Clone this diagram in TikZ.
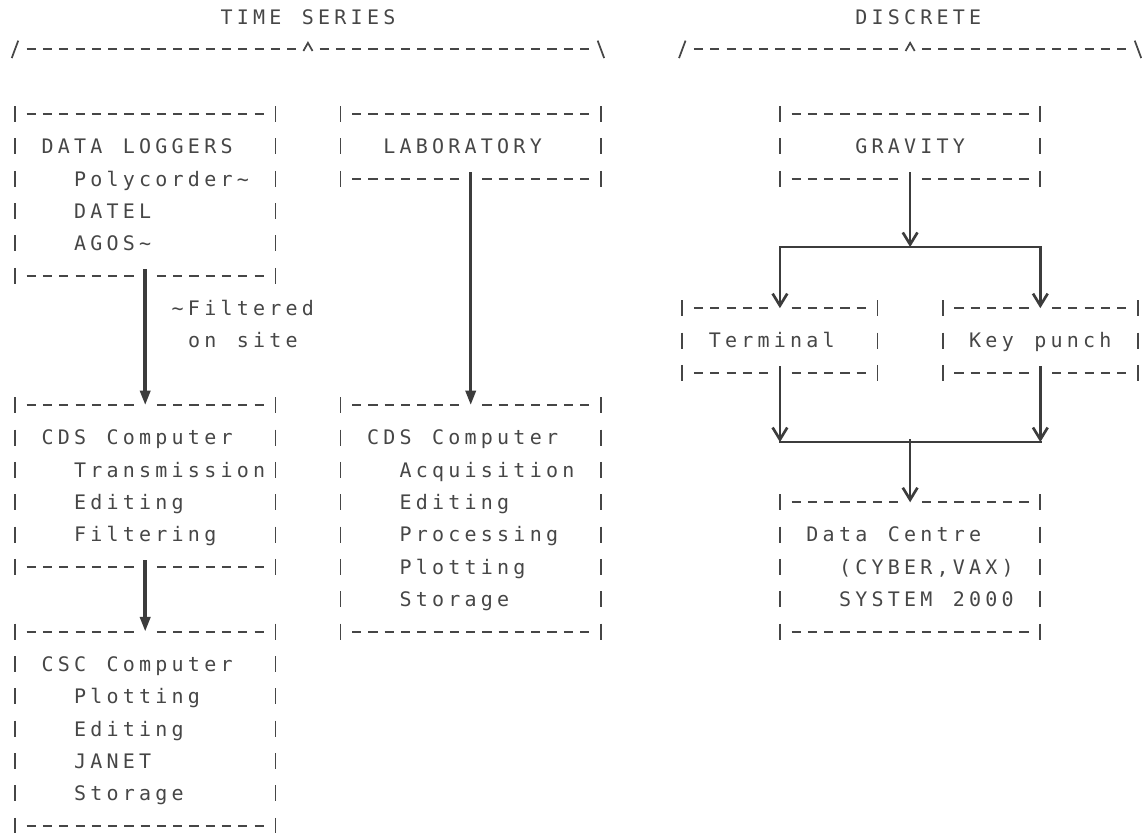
\documentclass[tikz,border=0pt]{standalone}
\usepackage{fontspec}
\newfontfamily\dotfont{DejaVu Sans Mono}
\usetikzlibrary{arrows.meta, fit}
\definecolor{inkgray}{RGB}{70,70,70}
\definecolor{linegray}{RGB}{60,60,60}
% one printer cell
\newlength\cw \setlength\cw{12.206pt}
\newlength\rh \setlength\rh{24.2625pt}
\newcommand\rowstrut{\rule[-6.66pt]{0pt}{\rh}}
\newcommand\indt{\hspace*{2\cw}}
\ExplSyntaxOn
\NewDocumentCommand\typed{m}{\rowstrut\str_map_inline:nn{#1}{\makebox[\cw]{##1}}}
\ExplSyntaxOff
% dashed frame made of - and | marks
\newcommand\asciiframe[1]{%
  \draw[hdash] ([xshift=.5\cw]#1.north west) -- ([xshift=-.5\cw]#1.north east)
               ([xshift=.5\cw]#1.south west) -- ([xshift=-.5\cw]#1.south east);
  \draw[vdash] ([yshift=.5\rh]#1.north west) -- ([yshift=-.5\rh]#1.south west)
               ([yshift=.5\rh]#1.north east) -- ([yshift=-.5\rh]#1.south east);}

\begin{document}
\begin{tikzpicture}[x=12.206pt, y=-24.2625pt,
  txt/.style={inner sep=0pt, outer sep=0pt, text=inkgray, align=left,
              font=\dotfont\fontsize{15pt}{24.2625pt}\selectfont},
  abox/.style={inner sep=0pt, outer sep=0pt},
  hdash/.style={draw=inkgray, line width=1.4pt, dash pattern=on 6.9pt off 5.306pt, dash phase=9.553pt},
  vdash/.style={draw=inkgray, line width=1.3pt, dash pattern=on 12pt off 12.2625pt, dash phase=18.131pt},
  glyph/.style={draw=inkgray, line width=1.3pt},
  cut/.style={preaction={draw=white, line width=7.5pt, -, shorten >=-1.2pt}},
  arr/.style={draw=linegray, line width=2.6pt, -{Triangle[length=11pt, width=7.5pt]}},
  varr/.style={draw=linegray, line width=2pt, -{Straight Barb[length=9pt, width=11pt]}},
  bar/.style={draw=linegray, line width=2pt, line cap=rect}]
  \useasboundingbox (-0.9217,-0.5255) rectangle (69.247,25.193);

  % headings and their braces
  \node[txt] (ts) at (18,0) {\typed{TIME SERIES}};
  \node[txt] (disc) at (55.5,0) {\typed{DISCRETE}};
  \foreach \a/\m/\b in {0/18/36, 41/55/69} {
    \draw[hdash] (\a+0.5,1) -- (\m-0.5,1) (\m+0.5,1) -- (\b-0.5,1);
    \draw[glyph] (\a-0.2,1.27) -- (\a+0.2,0.73)
                 (\m-0.28,1.05) -- (\m,0.8) -- (\m+0.28,1.05)
                 (\b-0.2,0.73) -- (\b+0.2,1.27);
  }

  % boxes
  \node[abox, fit={(0,3) (16,8)}] (loggers) {};
  \node[abox, fit={(20,3) (36,5)}] (lab) {};
  \node[abox, fit={(0,12) (16,17)}] (cdsts) {};
  \node[abox, fit={(0,19) (16,25)}] (csc) {};
  \node[abox, fit={(20,12) (36,19)}] (cdslab) {};
  \node[abox, fit={(47,3) (63,5)}] (gravity) {};
  \node[abox, fit={(41,9) (53,11)}] (terminal) {};
  \node[abox, fit={(57,9) (69,11)}] (keypunch) {};
  \node[abox, fit={(47,15) (63,19)}] (centre) {};
  \foreach \b in {loggers, lab, cdsts, csc, cdslab, gravity, terminal, keypunch, centre}
    {\asciiframe{\b}}

  % box texts
  \node[txt, anchor=west] (loggers-t) at (1.5,5.5)
    {\typed{DATA LOGGERS}\\\indt\typed{Polycorder~}\\\indt\typed{DATEL}\\\indt\typed{AGOS~}};
  \node[txt, anchor=west] (lab-t) at (22.5,4) {\typed{LABORATORY}};
  \node[txt, anchor=west] (cdsts-t) at (1.5,14.5)
    {\typed{CDS Computer}\\\indt\typed{Transmission}\\\indt\typed{Editing}\\\indt\typed{Filtering}};
  \node[txt, anchor=west] (csc-t) at (1.5,22)
    {\typed{CSC Computer}\\\indt\typed{Plotting}\\\indt\typed{Editing}\\\indt\typed{JANET}\\\indt\typed{Storage}};
  \node[txt, anchor=west] (cdslab-t) at (21.5,15.5)
    {\typed{CDS Computer}\\\indt\typed{Acquisition}\\\indt\typed{Editing}\\\indt\typed{Processing}\\\indt\typed{Plotting}\\\indt\typed{Storage}};
  \node[txt, anchor=west] (gravity-t) at (51.5,4) {\typed{GRAVITY}};
  \node[txt, anchor=west] (terminal-t) at (42.5,10) {\typed{Terminal}};
  \node[txt, anchor=west] (keypunch-t) at (58.5,10) {\typed{Key punch}};
  \node[txt, anchor=west] (centre-t) at (48.5,17)
    {\typed{Data Centre}\\\indt\typed{(CYBER,VAX)}\\\indt\typed{SYSTEM 2000}};
  \node[txt, anchor=west] (filt) at (9.5,9.5) {\typed{~Filtered}\\\hspace*{\cw}\typed{on site}};

  % time series arrows
  \draw[arr, cut] ([yshift=5pt]loggers.south) -- (cdsts.north);
  \draw[arr, cut] ([yshift=5pt]cdsts.south) -- (csc.north);
  \draw[arr, cut] ([yshift=5pt]lab.south) -- (cdslab.north);

  % discrete fork and join
  \coordinate (split) at (55,7.11);
  \coordinate (join) at (55,13.14);
  \draw[varr, cut] ([yshift=5pt]gravity.south) -- (split);
  \draw[varr, cut] (split -| terminal.north) -- (terminal.north);
  \draw[varr, cut] (split -| keypunch.north) -- (keypunch.north);
  \draw[varr, cut] ([yshift=5pt]terminal.south) -- (join -| terminal.south);
  \draw[varr, cut] ([yshift=5pt]keypunch.south) -- (join -| keypunch.south);
  \draw[varr, cut] ([yshift=2pt]join) -- (centre.north);
  \draw[bar] (split -| terminal.north) -- (split -| keypunch.north);
  \draw[bar] (join -| terminal.south) -- (join -| keypunch.south);
\end{tikzpicture}
\end{document}
